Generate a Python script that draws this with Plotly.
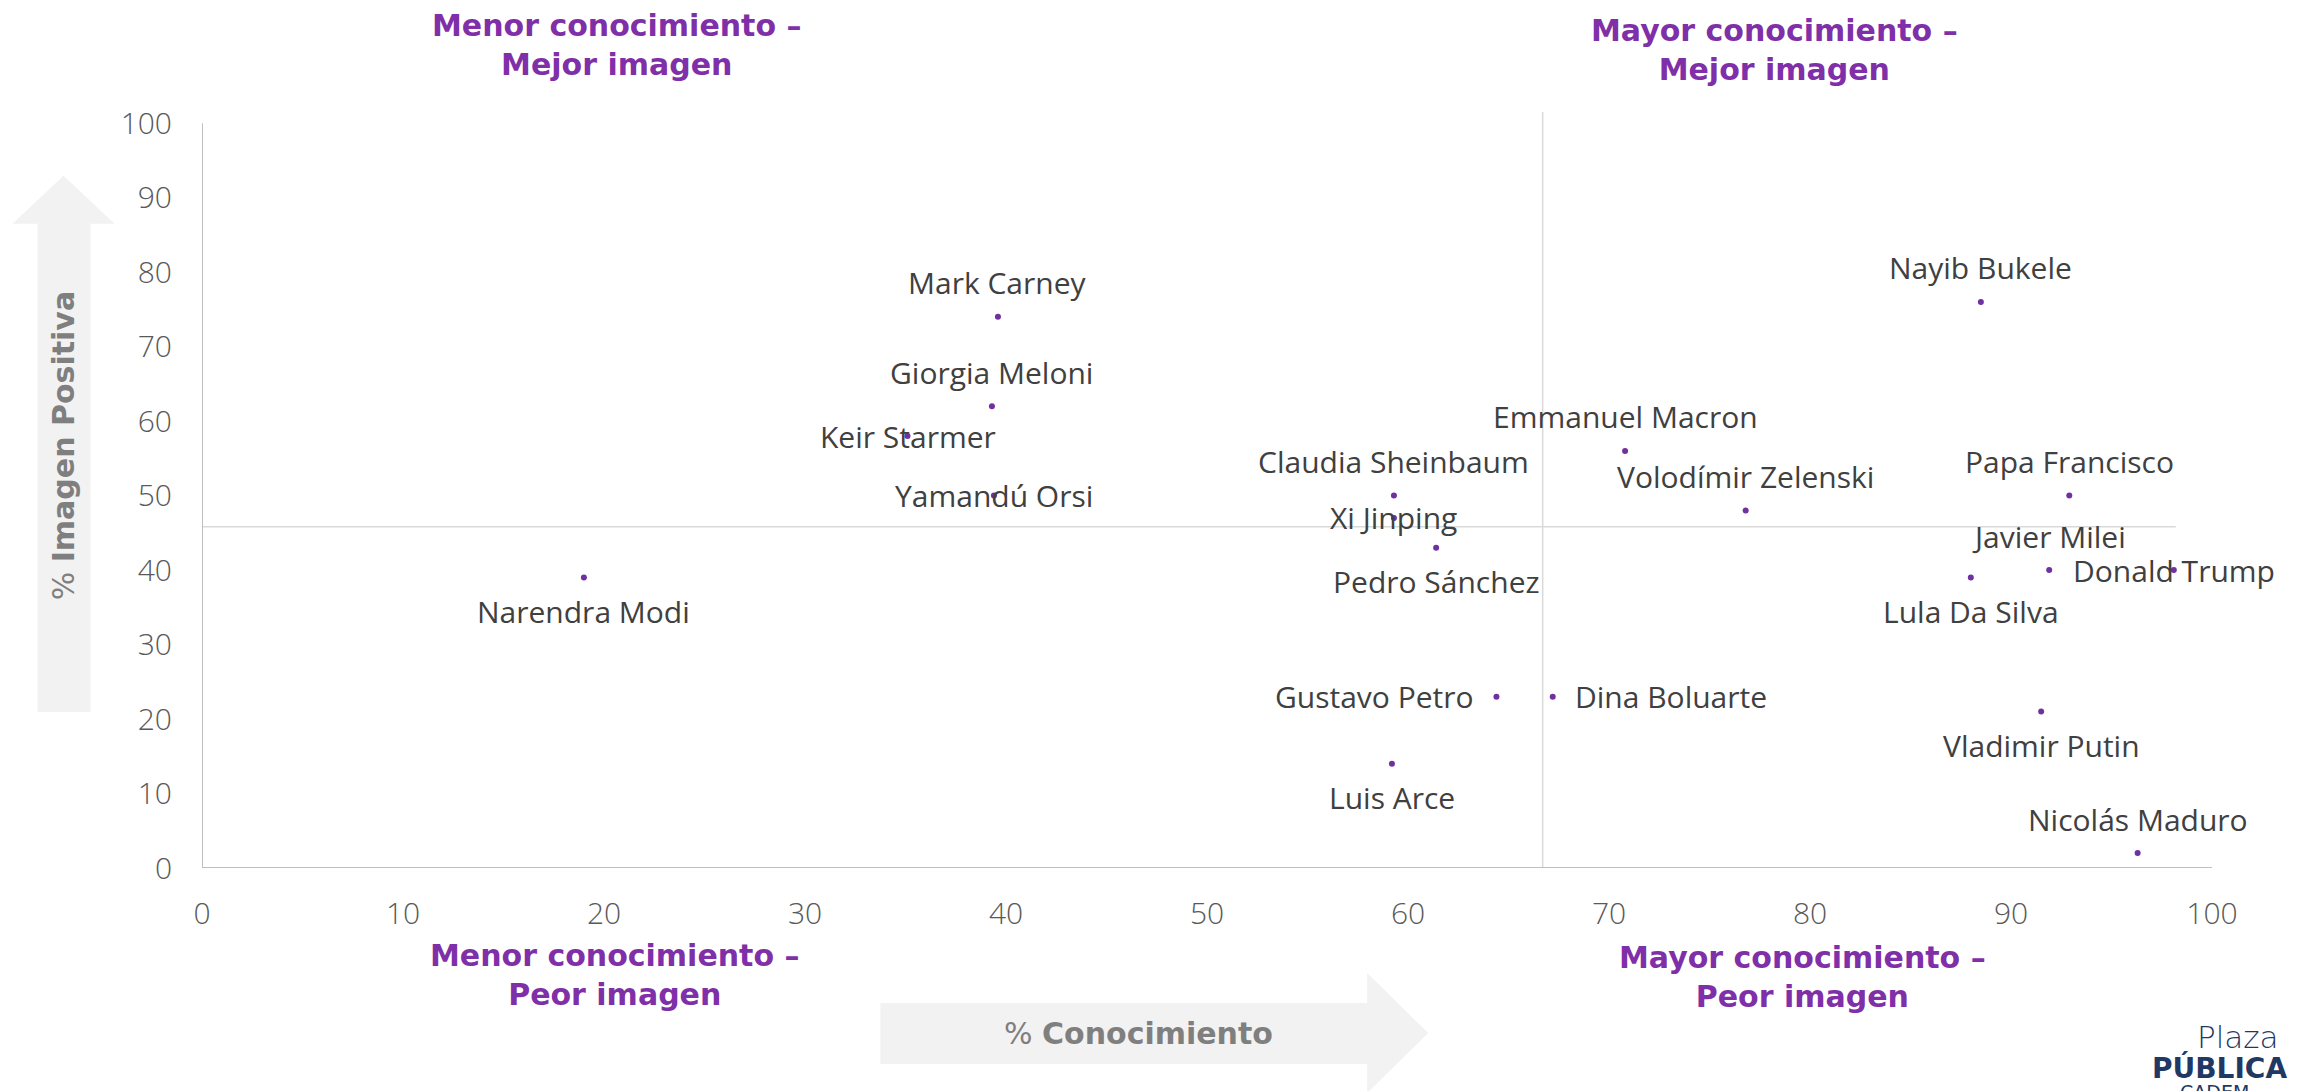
import plotly.graph_objects as go

# ---------------- data ----------------
names = ["Narendra Modi", "Mark Carney", "Giorgia Meloni", "Keir Starmer", "Yamandú Orsi",
         "Claudia Sheinbaum", "Xi Jinping", "Pedro Sánchez", "Emmanuel Macron",
         "Volodímir Zelenski", "Nayib Bukele", "Papa Francisco", "Javier Milei",
         "Donald Trump", "Lula Da Silva", "Vladimir Putin", "Nicolás Maduro",
         "Gustavo Petro", "Dina Boluarte", "Luis Arce"]
conocimiento = [19.0, 39.6, 39.3, 35.1, 39.4, 59.3, 59.3, 61.4, 70.8, 76.8,
                88.5, 92.9, 91.9, 98.1, 88.0, 91.5, 96.3, 64.4, 67.2, 59.2]
imagen_positiva = [39, 74, 62, 58, 50, 50, 47, 43, 56, 48,
                   76, 50, 40, 40, 39, 21, 2, 23, 23, 14]
ref_conocimiento = 66.7
ref_imagen = 45.8
ticks = [0, 10, 20, 30, 40, 50, 60, 70, 80, 90, 100]

# label placement (style)
label_pos = {"Narendra Modi": "below", "Mark Carney": "above", "Giorgia Meloni": "above",
             "Keir Starmer": "center", "Yamandú Orsi": "center", "Claudia Sheinbaum": "above",
             "Xi Jinping": "center", "Pedro Sánchez": "below", "Emmanuel Macron": "above",
             "Volodímir Zelenski": "above", "Nayib Bukele": "above", "Papa Francisco": "above",
             "Javier Milei": "above", "Donald Trump": "center", "Lula Da Silva": "below",
             "Vladimir Putin": "below", "Nicolás Maduro": "above", "Gustavo Petro": "left",
             "Dina Boluarte": "right", "Luis Arce": "below"}

W, H = 2305, 1091
O = 8  # default page body margin
# plot area in page pixels
L, R = 201.5, 2212.0
B = 868.0
YMAX = 101.5
ppu_y = 7.445
T = B - YMAX * ppu_y
PW, PH = R - L, B - T


def px(xp):
    """page pixel x -> paper"""
    return (xp - L) / PW


def py(yp):
    """page pixel y -> paper"""
    return (B - yp) / PH


PURPLE = "#7F2FA8"
DOT = "#7030A0"
GRAY_TXT = "#404040"
TICK = "#595959"
ARROW = "#F2F2F2"

fig = go.Figure()

fig.add_trace(go.Scatter(
    x=conocimiento, y=imagen_positiva, mode="markers",
    marker=dict(size=6, color=DOT), cliponaxis=False, hoverinfo="text", text=names,
    showlegend=False))

shapes = []
shapes.append(dict(type="line", xref="x", yref="y", x0=ref_conocimiento, x1=ref_conocimiento,
                   y0=0, y1=YMAX, line=dict(color="#D9D9D9", width=1.5), layer="below"))
shapes.append(dict(type="line", xref="x", yref="y", x0=0, x1=98.2, y0=ref_imagen, y1=ref_imagen,
                   line=dict(color="#D9D9D9", width=1.5), layer="below"))
shapes.append(dict(type="line", xref="x", yref="y", x0=0, x1=0, y0=0, y1=100,
                   line=dict(color="#BFBFBF", width=2)))
shapes.append(dict(type="line", xref="x", yref="y", x0=0, x1=100, y0=0, y1=0,
                   line=dict(color="#BFBFBF", width=2)))


def path_paper(points):
    return "M " + " L ".join(f"{px(a):.5f},{py(b):.5f}" for a, b in points) + " Z"


y_arrow = [(37, 712), (37, 224), (12, 224), (63, 176), (114, 224), (90, 224), (90, 712)]
x_arrow = [(880, 1003), (1367, 1003), (1367, 973), (1428, 1033), (1367, 1093), (1367, 1064), (880, 1064)]
for pts in (y_arrow, x_arrow):
    shapes.append(dict(type="path", xref="paper", yref="paper", path=path_paper(pts),
                       fillcolor=ARROW, line=dict(width=0), layer="below"))

annotations = []


def paper_text(xp, yp, text, font, **kw):
    d = dict(xref="paper", yref="paper", x=px(xp), y=py(yp), showarrow=False,
             text=text, font=font, xanchor="center", yanchor="middle")
    d.update(kw)
    annotations.append(d)


paper_text(63, 446, "% <b>Imagen Positiva</b>",
           dict(family="DejaVu Sans", size=30, color="#7F7F7F"), textangle=-90)
paper_text(1138, 1033, "% <b>Conocimiento</b>",
           dict(family="DejaVu Sans", size=30, color="#7F7F7F"))

quad = [("Menor conocimiento –<br>Mejor imagen", 616, 45),
        ("Mayor conocimiento –<br>Mejor imagen", 1774, 50),
        ("Menor conocimiento –<br>Peor imagen", 614, 975),
        ("Mayor conocimiento –<br>Peor imagen", 1802, 977)]
for txt, xp, yp in quad:
    paper_text(xp, yp, f"<b>{txt}</b>",
               dict(family="DejaVu Sans", size=30, color=PURPLE), align="center")

for n, xv, yv in zip(names, conocimiento, imagen_positiva):
    p = label_pos[n]
    a = dict(x=xv, y=yv, xref="x", yref="y", text=n, showarrow=False,
             xanchor="center", yanchor="middle",
             font=dict(family="Open Sans", size=30, color=GRAY_TXT))
    if p == "above":
        a.update(yshift=34)
    elif p == "below":
        a.update(yshift=-34)
    elif p == "left":
        a.update(xanchor="right", xshift=-20)
    elif p == "right":
        a.update(xanchor="left", xshift=20)
    annotations.append(a)

# logo (cut off at the page edge, as in the reference)
paper_text(2195, 1037, "Plaza", dict(family="DejaVu Sans", size=31, color="#1F3864", weight=300),
           xanchor="left")
paper_text(2150, 1068, "<b>PÚBLICA</b>", dict(family="DejaVu Sans", size=28, color="#1F3864"),
           xanchor="left")
paper_text(2178, 1092, "CADEM", dict(family="DejaVu Sans", size=19, color="#1F3864"),
           xanchor="left")

fig.update_layout(
    width=W, height=H,
    margin=dict(l=L - O, r=W - (R - O), t=T - O, b=H - (B - O), pad=0),
    plot_bgcolor="white", paper_bgcolor="white",
    shapes=shapes, annotations=annotations,
    xaxis=dict(range=[0, 100], tickvals=ticks, ticktext=[str(t) for t in ticks],
               showgrid=False, zeroline=False, showline=False, ticks="",
               ticklabelstandoff=25,
               tickfont=dict(family="Open Sans", size=30, color=TICK, weight=300)),
    yaxis=dict(range=[0, YMAX], tickvals=ticks, ticktext=[str(t) for t in ticks],
               showgrid=False, zeroline=False, showline=False, ticks="",
               ticklabelstandoff=29,
               tickfont=dict(family="Open Sans", size=30, color=TICK, weight=300)),
)

fig.write_html("out.html")
